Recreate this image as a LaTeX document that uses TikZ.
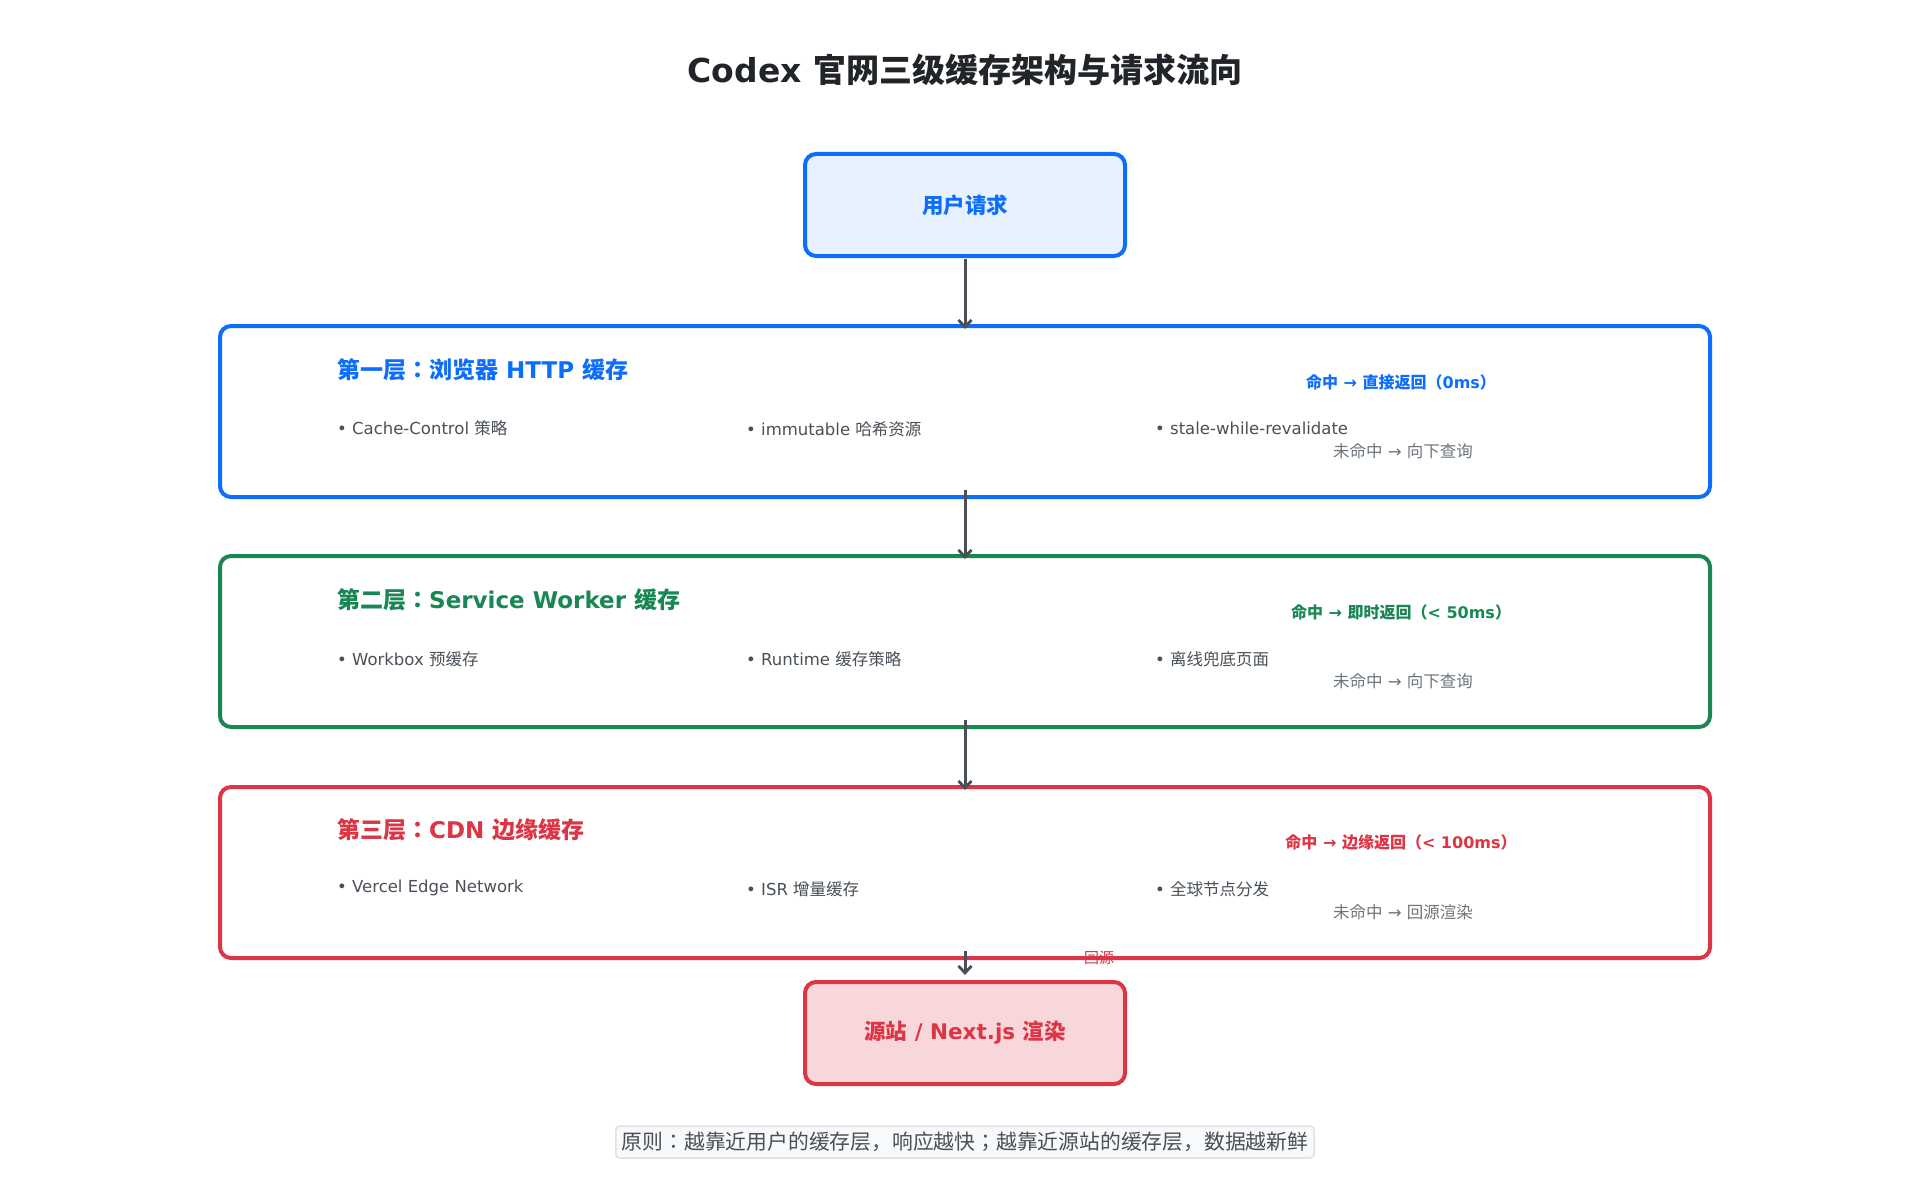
\documentclass[tikz,border=0pt]{standalone}
\usepackage{fontspec}
\setmainfont{DejaVu Sans}
\newfontfamily\cjkf{Noto Sans CJK JP}
\newcommand{\cj}[1]{{\cjkf #1}}
\usetikzlibrary{arrows.meta,calc}
\definecolor{cblue}{HTML}{0D6EFD}
\definecolor{cbluefill}{HTML}{E7F1FF}
\definecolor{cgreen}{HTML}{198754}
\definecolor{cred}{HTML}{DC3545}
\definecolor{credfill}{HTML}{F8D7DA}
\definecolor{ctitle}{HTML}{212529}
\definecolor{cbody}{HTML}{495057}
\definecolor{cmuted}{HTML}{6C757D}
\definecolor{carrow}{HTML}{495057}
\definecolor{cfoot}{HTML}{F8F9FA}
\definecolor{cfootline}{HTML}{DEE2E6}
\newcommand{\fs}[1]{\fontsize{#1}{#1}\selectfont}
\begin{document}
\begin{tikzpicture}[x=1pt,y=-1pt,
  endbox/.style={draw, line width=4pt, rounded corners=11pt, inner sep=0pt, outer sep=0pt,
    minimum width=320pt, minimum height=102pt, font=\fs{21.5}\bfseries},
  layerbox/.style={draw, line width=4pt, rounded corners=11pt, inner sep=0pt, outer sep=0pt,
    minimum width=1490pt, minimum height=171pt, anchor=north west, fill=white},
  ltitle/.style={anchor=west, inner sep=0pt, font=\fs{23}\bfseries},
  bullet/.style={anchor=west, inner sep=0pt, font=\fs{16.5}, text=cbody},
  hit/.style={inner sep=0pt, font=\fs{16}\bfseries},
  miss/.style={inner sep=0pt, font=\fs{16.5}, text=cmuted},
  flow/.style={draw=carrow, line width=3pt, -{Straight Barb[length=7pt,width=13pt,line width=2.8pt]}}
]
\useasboundingbox (0,0) rectangle (1930,1180);

\node[inner sep=0pt, font=\fs{33}\bfseries, text=ctitle] (title) at (965,70) {Codex \cj{官网三级缓存架构与请求流向}};

\node[endbox, draw=cblue, fill=cbluefill, text=cblue] (user) at (965,205) {\cj{用户请求}};

% Layer 1
\node[layerbox, draw=cblue] (l1) at (220,326) {};
\node[ltitle, text=cblue] (l1t) at (337,370) {\cj{第一层：浏览器} HTTP \cj{缓存}};
\node[bullet] (l1a) at (337,428) {• Cache-Control \cj{策略}};
\node[bullet] (l1b) at (746,429) {• immutable \cj{哈希资源}};
\node[bullet] (l1c) at (1155,428) {• stale-while-revalidate};
\node[hit, text=cblue] (l1h) at (1401,382) {\cj{命中} → \cj{直接返回（}0ms\cj{）}};
\node[miss] (l1m) at (1403,451) {\cj{未命中} → \cj{向下查询}};

% Layer 2
\node[layerbox, draw=cgreen] (l2) at (220,556) {};
\node[ltitle, text=cgreen] (l2t) at (337,600) {\cj{第二层：}Service Worker \cj{缓存}};
\node[bullet] (l2a) at (337,659) {• Workbox \cj{预缓存}};
\node[bullet] (l2b) at (746,659) {• Runtime \cj{缓存策略}};
\node[bullet] (l2c) at (1155,659) {• \cj{离线兜底页面}};
\node[hit, text=cgreen] (l2h) at (1401,612) {\cj{命中} → \cj{即时返回（}< 50ms\cj{）}};
\node[miss] (l2m) at (1403,681) {\cj{未命中} → \cj{向下查询}};

% Layer 3
\node[layerbox, draw=cred] (l3) at (220,787) {};
\node[ltitle, text=cred] (l3t) at (337,830) {\cj{第三层：}CDN \cj{边缘缓存}};
\node[bullet] (l3a) at (337,888) {• Vercel Edge Network};
\node[bullet] (l3b) at (746,889) {• ISR \cj{增量缓存}};
\node[bullet] (l3c) at (1155,889) {• \cj{全球节点分发}};
\node[hit, text=cred] (l3h) at (1401,842) {\cj{命中} → \cj{边缘返回（}< 100ms\cj{）}};
\node[miss] (l3m) at (1403,912) {\cj{未命中} → \cj{回源渲染}};

\node[endbox, draw=cred, fill=credfill, text=cred] (origin) at (965,1033) {\cj{源站} / Next.js \cj{渲染}};

% Connectors
\draw[flow] ($(user.south)+(0,3)$) -- ($(l1.north)+(0,3)$);
\draw[flow] ($(l1.south)+(0,-7)$) -- ($(l2.north)+(0,3)$);
\draw[flow] ($(l2.south)+(0,-7)$) -- ($(l3.north)+(0,3)$);
\draw[flow] ($(l3.south)+(0,-7)$) -- ($(origin.north)+(0,-7)$);
\node[inner sep=0pt, font=\fs{15}, text=cred] (back) at (1099,958) {\cj{回源}};

% Footer
\node[draw=cfootline, fill=cfoot, line width=1.5pt, rounded corners=4pt,
  inner xsep=6pt, minimum height=32pt, inner ysep=0pt, font=\fs{20.8}, text=cbody]
  (foot) at (965,1142) {\cj{原则：越靠近用户的缓存层，响应越快；越靠近源站的缓存层，数据越新鲜}};
\end{tikzpicture}
\end{document}
